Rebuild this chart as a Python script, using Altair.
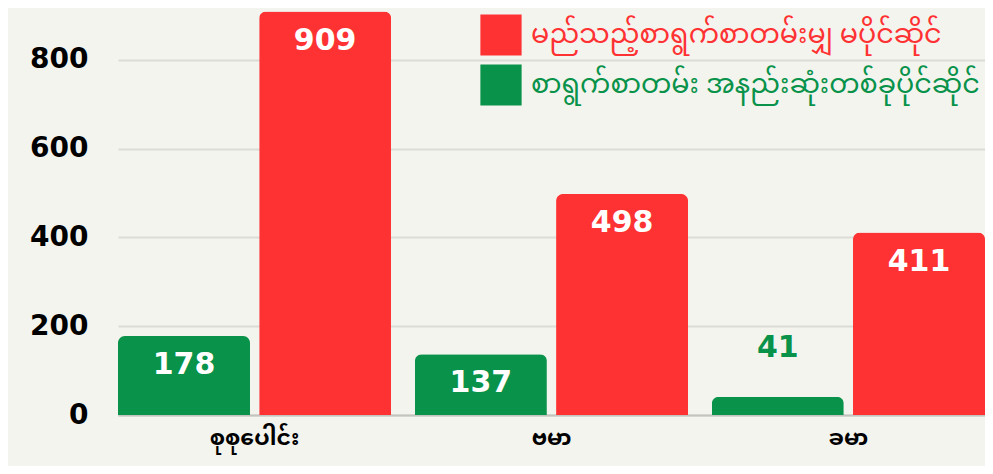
import altair as alt
import pandas as pd

categories = ["စုစုပေါင်း", "ဗမာ", "ခမာ"]
series_red = "မည်သည့်စာရွက်စာတမ်းမျှ မပိုင်ဆိုင်"
series_green = "စာရွက်စာတမ်း အနည်းဆုံးတစ်ခုပိုင်ဆိုင်"
green_values = [178, 137, 41]
red_values = [909, 498, 411]
y_ticks = [0, 200, 400, 600, 800]

RED = "#ff3233"
GREEN = "#08924a"
BG = "#f4f4ef"
NUM_FONT = "DejaVu Sans"
MY_FONT = "Noto Sans Myanmar, Padauk, Myanmar Text, Noto Sans, sans-serif"

rows = []
for c, g, r in zip(categories, green_values, red_values):
    rows.append({"category": c, "series": series_green, "value": g})
    rows.append({"category": c, "series": series_red, "value": r})
df = pd.DataFrame(rows)

x_enc = alt.X("category:N", sort=categories, title=None,
              scale=alt.Scale(paddingInner=0.08, paddingOuter=0))
xo_enc = alt.XOffset("series:N", sort=[series_green, series_red],
                     scale=alt.Scale(paddingInner=0.065, paddingOuter=0))
y_enc = alt.Y("value:Q", title=None,
              scale=alt.Scale(domain=[0, 917], nice=False),
              axis=alt.Axis(values=y_ticks))

base = alt.Chart(df)

bars = base.mark_bar(cornerRadiusTopLeft=7, cornerRadiusTopRight=7).encode(
    x=x_enc,
    xOffset=xo_enc,
    y=y_enc,
    color=alt.Color(
        "series:N",
        scale=alt.Scale(domain=[series_red, series_green], range=[RED, GREEN]),
        legend=alt.Legend(
            orient="none", legendX=362, legendY=6, title=None,
            symbolType="square", symbolSize=1700, symbolStrokeWidth=0,
            symbolOpacity=1,
            labelFont=MY_FONT, labelFontSize=27,
            labelColor={"expr": f"datum.value == '{series_red}' ? '{RED}' : '{GREEN}'"},
            labelLimit=700, rowPadding=8, labelOffset=9,
        ),
    ),
)

inside = base.transform_filter("datum.value >= 100").mark_text(
    dy=29, baseline="middle", align="center", color="white",
    font=NUM_FONT, fontSize=30, fontWeight="bold",
).encode(x=x_enc, xOffset=xo_enc, y=y_enc, text="value:Q")

outside = base.transform_filter("datum.value < 100").mark_text(
    dy=-49, baseline="middle", align="center", color=GREEN,
    font=NUM_FONT, fontSize=30, fontWeight="bold",
).encode(x=x_enc, xOffset=xo_enc, y=y_enc, text="value:Q")

chart = alt.layer(bars, inside, outside).properties(
    width=867, height=407,
    padding={"left": 110, "top": 0, "right": 0, "bottom": 51},
    autosize=alt.AutoSizeParams(type="none"),
    background=BG,
).configure_view(stroke=None).configure_axisX(
    labelAngle=0, labelFont=MY_FONT, labelFontSize=22, labelFontWeight="bold",
    labelColor="black", labelPadding=12, ticks=False, grid=False,
    domainColor="#c4c4be", domainWidth=2,
).configure_axisY(
    labelFont=NUM_FONT, labelFontSize=28, labelFontWeight="bold",
    labelColor="black", labelPadding=30, ticks=False, domain=False,
    gridColor="#dcdcd6", gridWidth=2,
)

chart.save("out.html", embed_options={"renderer": "svg", "actions": False})
